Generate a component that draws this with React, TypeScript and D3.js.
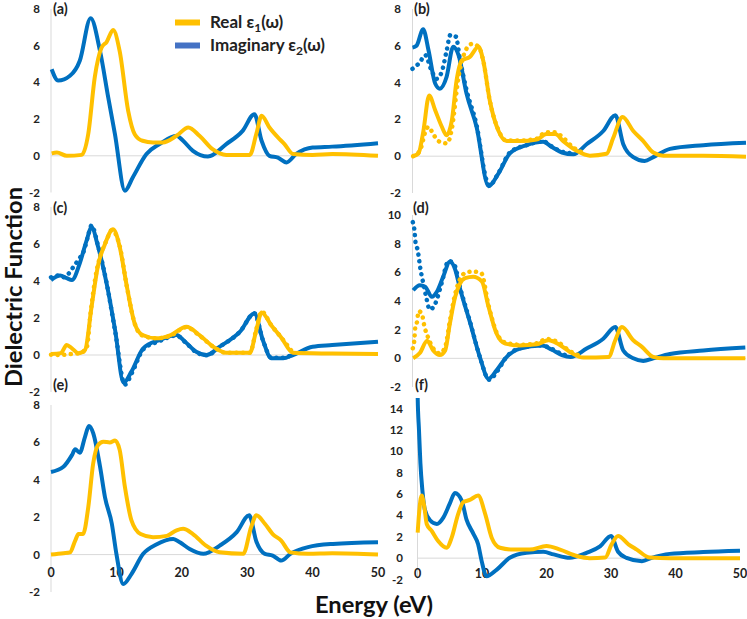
import React from 'react';
import * as d3 from 'd3';

type Pt = [number, number];

const energyTicks = [0, 10, 20, 30, 40, 50];
const ticksA = [-2, 0, 2, 4, 6, 8];
const ticksD = [-2, 0, 2, 4, 6, 8, 10];
const ticksF = [-2, 0, 2, 4, 6, 8, 10, 12, 14];

// (a)
const aImag: Pt[] = [[0.1,4.72],[1.1,4.1],[2.9,4.36],[4.4,5.18],[6.06,7.5],[7.5,5.7],[8.75,3.18],[9.77,1.2],[11.3,-1.9],[12.5,-1.18],[14.6,0.1],[16.6,0.64],[19.2,1.09],[20.2,0.82],[21.7,0.27],[24,-0.04],[26.8,0.64],[29.3,1.36],[31.1,2.27],[32.2,0.82],[33.4,0],[34.7,-0.1],[36,-0.36],[37.5,0.1],[40,0.45],[43,0.5],[50,0.69]];
const aReal: Pt[] = [[0.1,0.13],[0.9,0.18],[2.4,0],[4.7,0.05],[5.7,1.2],[6.7,4.3],[7.74,5.9],[8.5,6.2],[9.5,6.85],[10.5,5.7],[11.8,2.45],[12.8,1.18],[14,0.82],[15.6,0.73],[17.1,0.73],[19.2,1.09],[21,1.54],[22.7,1.09],[24.7,0.36],[26.8,0.05],[30.4,0.05],[31.4,1.2],[32.2,2.18],[33.4,1.54],[34.7,1.0],[35.7,0.64],[37,0.1],[40,0.05],[43,0.1],[50,0]];

// (b)
const bImag: Pt[] = [[0,5.9],[0.6,6.0],[1.6,6.9],[2.4,5.76],[3.4,3.95],[4.1,3.67],[5.1,4.3],[6.1,5.95],[6.9,5.5],[8.1,3.4],[9.6,1.6],[11.4,-1.63],[12.9,-0.93],[14.6,0.15],[17.1,0.6],[19.6,0.78],[20.9,0.5],[22.4,0.2],[24.1,0.1],[26.1,0.65],[28.6,1.37],[30.4,2.23],[31.6,0.65],[33.1,-0.05],[34.8,-0.26],[36.1,-0.05],[38.6,0.4],[43.6,0.6],[50,0.73]];
const bImagDot: Pt[] = [[0,4.75],[1.1,5.1],[1.9,5.5],[2.8,4.7],[3.6,4.2],[4.4,4.6],[5.1,5.7],[5.7,6.6],[6.5,6.5],[7.1,5.3],[8.1,3.6],[9.6,1.7],[11.1,-1.3],[11.5,-1.6],[12.9,-0.9],[14.6,0.2],[17.1,0.6],[19.6,0.8],[21,0.5],[22.4,0.25],[24.1,0.15]];
const bReal: Pt[] = [[0,0],[0.9,0.15],[1.6,1.3],[2.5,3.3],[3.4,2.5],[4.4,1.6],[5.1,1.14],[5.9,1.95],[6.6,4.1],[7.4,5.2],[8.6,5.4],[9.9,5.95],[10.6,5.2],[11.6,3.0],[12.9,1.37],[14.1,0.82],[16.1,0.82],[18.6,0.9],[20.1,1.2],[21.4,1.2],[22.6,0.82],[24.6,0.3],[26.6,0.03],[29.1,0.13],[30.1,1.0],[31.5,2.13],[33.1,1.37],[34.6,0.82],[36.1,0.2],[37.6,0.03],[43.6,0.03],[50,-0.03]];
const bRealDot: Pt[] = [[0.1,0],[0.9,0.2],[1.4,0.6],[1.8,1.2],[2.4,1.6],[3.1,1.2],[4.0,0.8],[5.2,0.7],[5.9,1.5],[6.9,4.3],[7.9,5.7],[8.9,6.1],[9.9,5.95],[10.6,5.2],[11.6,3.0],[12.9,1.4],[14.1,0.85],[16.1,0.85],[18.6,0.95],[20,1.3],[21.3,1.3],[22.6,1.0],[24,0.5],[25.5,0.2]];

// (c)
const cImag: Pt[] = [[0,4.05],[1.4,4.3],[2.4,4.15],[3.2,4.05],[4.4,4.96],[5.45,6.2],[6.2,6.9],[7.2,5.85],[8.5,3.87],[9.8,1.35],[11.1,-1.5],[12.3,-0.9],[14.1,0.36],[16.6,0.81],[19.2,1.08],[20.5,0.72],[22.2,0.18],[23.8,0],[25.8,0.45],[28.9,1.26],[31.1,2.25],[32.4,0.8],[33.7,-0.18],[35.5,-0.18],[37,0],[40,0.45],[43,0.54],[50,0.72]];
const cImagDot: Pt[] = [[0,4.2],[1.2,4.3],[2.0,4.2],[2.7,4.4],[3.5,4.8],[4.3,5.2],[5.0,5.6],[5.6,6.35],[6.2,7.0],[7.2,5.9],[8.5,3.9],[9.8,1.3],[11.3,-1.6],[12.4,-0.95],[14.1,0.3],[16.6,0.75],[19.2,1.05],[20.5,0.7],[22.2,0.15],[23.8,-0.02],[25.8,0.45],[28.9,1.26],[31.1,2.25],[32.4,0.8],[33.7,-0.15],[35.5,-0.15],[36.5,-0.05]];
const cReal: Pt[] = [[0,0.05],[1.5,0.1],[2.4,0.54],[3.2,0.36],[4.2,0.1],[5.2,0.27],[6.2,2.6],[7.2,4.86],[8.2,5.95],[9.5,6.8],[10.5,5.85],[11.6,3.7],[12.8,1.7],[14,1.08],[16.1,0.9],[18.3,1.08],[20.7,1.53],[22.7,1.08],[24.8,0.45],[26.8,0.12],[30.4,0.12],[31.4,1.35],[32.2,2.3],[33.7,1.6],[35.2,0.95],[37,0.12],[43,0.08],[50,0.05]];
const cRealDot: Pt[] = [[0,0.02],[1.5,0],[3,0.05],[4.5,0.1],[5.5,0.45],[6.0,2.1],[6.5,3.5],[7.0,4.6],[7.5,5.3],[8.5,6.2],[9.3,6.75],[10.5,5.9],[11.6,3.7],[12.8,1.7],[14,1.05],[16.1,0.9],[18.3,1.05],[20.7,1.5],[22.7,1.05],[24.8,0.45],[26.8,0.12],[30.4,0.12],[31.4,1.4],[32.2,2.35],[33.7,1.6],[35.2,0.95],[37,0.12]];

// (d)
const dImag: Pt[] = [[0.1,4.75],[1.1,5.1],[1.9,5.0],[2.9,4.29],[3.6,4.6],[4.6,5.69],[5.6,6.74],[6.4,6.2],[7.1,4.9],[8.6,2.54],[10.1,0.09],[11.4,-1.42],[12.6,-0.84],[14.1,0.09],[16.1,0.68],[19.4,0.9],[20.9,0.6],[22.4,0.23],[23.7,0.1],[26.1,0.68],[28.6,1.37],[30.4,2.18],[31.6,0.55],[33.1,0],[34.6,-0.18],[36.1,0],[38.6,0.3],[43.6,0.55],[49.9,0.75]];
const dImagDot: Pt[] = [[0.05,9.5],[0.3,8.9],[0.45,8.1],[0.8,7.5],[1.0,6.85],[1.2,6.2],[1.5,5.5],[2.0,4.4],[2.6,3.4],[3.4,3.8],[4.4,5.3],[5.4,6.8],[6.3,6.5],[7.1,5.0],[8.6,2.6],[10.1,0.1],[11.5,-1.5],[12.7,-0.9],[14.1,0.1],[16.1,0.7],[19.4,0.9],[20.9,0.65],[22.4,0.3],[23.7,0.15]];
const dReal: Pt[] = [[0.1,0],[1.1,0.37],[2.2,1.22],[3.1,0.55],[4.1,0.23],[4.9,0.55],[5.6,2.42],[6.4,4.29],[7.1,5.2],[7.9,5.6],[9.1,5.7],[10.4,5.36],[11.4,3.6],[12.6,1.73],[13.9,1.03],[16.1,0.9],[18.6,0.98],[20.4,1.26],[21.9,0.98],[23.6,0.45],[25.6,0.05],[29.4,0.1],[30.4,1.26],[31.4,2.18],[33.1,1.26],[34.4,0.8],[36.1,0.1],[37.6,0],[49.9,0]];
const dRealDot: Pt[] = [[0.05,0.7],[0.3,1.4],[0.4,2.1],[0.7,2.6],[0.9,3.3],[1.4,3.1],[1.8,2.2],[2.3,1.5],[3.1,0.7],[4.1,0.35],[4.9,0.8],[5.6,2.6],[6.4,4.5],[7.1,5.5],[8.1,6.0],[9.1,6.05],[10.3,5.95],[11.4,3.7],[12.6,1.8],[13.9,1.1],[16.1,0.95],[18.6,1.05],[20.1,1.35],[21.9,1.1],[23.6,0.5],[25,0.2]];

// (e)
const eImag: Pt[] = [[0,4.42],[1.9,4.7],[3.2,5.32],[3.7,5.63],[4.4,5.45],[5.2,6.3],[5.8,6.88],[6.45,6.5],[7.5,4.7],[8.25,3.08],[9.3,1.65],[10,0.04],[11.05,-1.57],[12.3,-1.04],[14.1,0.04],[16.1,0.54],[18.7,0.84],[19.7,0.66],[21.2,0.3],[23.3,0.04],[25.8,0.48],[28.4,1.2],[30.3,2.1],[31.4,0.7],[32.7,0.04],[33.9,-0.05],[35.2,-0.32],[36.6,0.04],[39.3,0.4],[43.1,0.57],[50,0.66]];
const eReal: Pt[] = [[0,0],[1.9,0.07],[2.9,0.12],[3.7,0.75],[4.2,1.1],[4.9,1.1],[5.7,2.54],[6.45,4.87],[7.2,5.86],[8.0,6.04],[9.0,6.0],[9.8,6.1],[10.5,5.6],[11.3,3.62],[12.3,1.83],[13.7,1.1],[15.6,0.93],[17.7,1.0],[19.2,1.3],[20.2,1.38],[21.7,1.1],[23.7,0.48],[25.8,0.12],[29.4,0.04],[30.6,1.47],[31.4,2.1],[32.7,1.65],[33.9,1.1],[35.2,0.75],[36.6,0.12],[39.3,0.04],[43,0.07],[50,0]];

// (f)
const fImag: Pt[] = [[0,16.5],[0.03,15.0],[0.23,12.0],[0.45,8.9],[0.75,6.4],[1.16,4.5],[1.94,3.55],[3.0,3.2],[4.0,3.8],[5.0,5.1],[5.8,6.1],[6.85,5.4],[7.6,3.6],[8.65,2.3],[9.4,1.3],[9.95,-0.28],[10.7,-1.7],[12.3,-1.07],[14.3,0.03],[16.9,0.5],[19.5,0.6],[21.1,0.35],[23.6,0.03],[26.2,0.5],[28.3,1.1],[30.0,2.08],[31.1,0.6],[32.4,0.03],[34.8,-0.28],[36.3,0.03],[39.1,0.4],[44.3,0.57],[50,0.69]];
const fReal: Pt[] = [[0.03,2.4],[0.23,4.1],[0.65,5.86],[1.06,4.8],[1.43,3.2],[2.2,2.55],[3.2,1.6],[4.5,0.97],[5.3,1.92],[6.3,4.13],[7.1,5.24],[8.1,5.45],[9.4,5.86],[10.5,4.13],[11.5,1.92],[12.8,0.97],[14.9,0.8],[17.4,0.8],[20.0,1.13],[22.1,0.8],[24.7,0.2],[26.7,0],[29.1,0.05],[30.1,1.3],[31.1,2.08],[32.7,1.3],[34,0.8],[36,0.05],[39.1,0],[50,0]];

const YELLOW = '#FFC000';
const BLUE = '#0070C0';
const FONT = 'Lato, "Open Sans", "DejaVu Sans", sans-serif';

type PanelCfg = {
  id: string; label: string;
  x0: number; x1: number; yTop: number; yBot: number; yMax: number;
  ticks: number[]; tickX: number; labelX: number; labelY: number;
  real: Pt[]; imag: Pt[]; realDot?: Pt[]; imagDot?: Pt[];
  xLabels: boolean; xLabelY?: number;
};

const panels: PanelCfg[] = [
  { id: 'a', label: '(a)', x0: 51, x1: 378, yTop: 9, yBot: 192.5, yMax: 8, ticks: ticksA, tickX: 40, labelX: 53, labelY: 14, real: aReal, imag: aImag, xLabels: false },
  { id: 'b', label: '(b)', x0: 412.5, x1: 746, yTop: 9, yBot: 193, yMax: 8, ticks: ticksA, tickX: 401, labelX: 414, labelY: 14, real: bReal, imag: bImag, realDot: bRealDot, imagDot: bImagDot, xLabels: false },
  { id: 'c', label: '(c)', x0: 51, x1: 378, yTop: 207, yBot: 392, yMax: 8, ticks: ticksA, tickX: 40, labelX: 53, labelY: 213, real: cReal, imag: cImag, realDot: cRealDot, imagDot: cImagDot, xLabels: false },
  { id: 'd', label: '(d)', x0: 412.5, x1: 746, yTop: 215, yBot: 387, yMax: 10, ticks: ticksD, tickX: 401, labelX: 413, labelY: 213, real: dReal, imag: dImag, realDot: dRealDot, imagDot: dImagDot, xLabels: false },
  { id: 'e', label: '(e)', x0: 51, x1: 378, yTop: 405, yBot: 592, yMax: 8, ticks: ticksA, tickX: 40, labelX: 53, labelY: 390, real: eReal, imag: eImag, xLabels: true, xLabelY: 577 },
  { id: 'f', label: '(f)', x0: 417.5, x1: 740, yTop: 398, yBot: 579.5, yMax: 15, ticks: ticksF, tickX: 403, labelX: 415, labelY: 390, real: fReal, imag: fImag, xLabels: true, xLabelY: 578 },
];

function Panel({ p }: { p: PanelCfg }) {
  const x = d3.scaleLinear().domain([0, 50]).range([p.x0, p.x1]);
  const y = d3.scaleLinear().domain([-2, p.yMax]).range([p.yBot, p.yTop]);
  const line = d3.line<Pt>().x(d => x(d[0])).y(d => y(d[1])).curve(d3.curveMonotoneX);
  const clipId = `clip-${p.id}`;
  const dotStyle = { strokeDasharray: '0.1 6.5', strokeLinecap: 'round' as const };
  return (
    <g>
      <defs>
        <clipPath id={clipId}>
          <rect x={p.x0 - 4} y={p.yTop} width={p.x1 - p.x0 + 10} height={p.yBot - p.yTop + 6} />
        </clipPath>
      </defs>
      <line x1={p.x0} x2={p.x0} y1={p.yTop} y2={p.yBot} stroke="#d9d9d9" strokeWidth={1} />
      <line x1={p.x0} x2={p.x1} y1={y(0)} y2={y(0)} stroke="#d9d9d9" strokeWidth={1} />
      {p.ticks.map(t => (
        <text key={t} x={p.tickX} y={y(t)} dy="0.35em" textAnchor="end" fontFamily={FONT} fontWeight={700} fontSize={11.5} fill="#222">{t}</text>
      ))}
      {p.xLabels && energyTicks.map(t => (
        <text key={'x' + t} x={x(t)} y={p.xLabelY} textAnchor="middle" fontFamily={FONT} fontWeight={700} fontSize={12.5} fill="#222">{t}</text>
      ))}
      <text x={p.labelX} y={p.labelY} fontFamily={FONT} fontWeight={700} fontSize={14.5} fill="#222">{p.label}</text>
      <g clipPath={`url(#${clipId})`} fill="none" strokeLinejoin="round">
        <path d={line(p.imag) || ''} stroke={BLUE} strokeWidth={4} />
        {p.imagDot && <path d={line(p.imagDot) || ''} stroke={BLUE} strokeWidth={4.5} style={dotStyle} />}
        <path d={line(p.real) || ''} stroke={YELLOW} strokeWidth={4} />
        {p.realDot && <path d={line(p.realDot) || ''} stroke={YELLOW} strokeWidth={4.5} style={dotStyle} />}
      </g>
    </g>
  );
}

export default function App() {
  return (
    <svg width={747} height={619} style={{ position: 'absolute', left: 0, top: 0, background: '#fff' }}>
      <rect width={747} height={619} fill="#fff" />
      {panels.map(p => <Panel key={p.id} p={p} />)}
      {/* legend */}
      <line x1={175} x2={200} y1={22.5} y2={22.5} stroke={YELLOW} strokeWidth={6} />
      <line x1={175} x2={200} y1={45.5} y2={45.5} stroke="#4472C4" strokeWidth={6} />
      <text x={210} y={28} fontFamily={FONT} fontWeight={700} fontSize={17} fill="#222">
        Real ε<tspan fontSize={12} dy={4}>1</tspan><tspan dy={-4}>(ω)</tspan>
      </text>
      <text x={210} y={51} fontFamily={FONT} fontWeight={700} fontSize={17} fill="#222">
        Imaginary ε<tspan fontSize={12} dy={4}>2</tspan><tspan dy={-4}>(ω)</tspan>
      </text>
      {/* axis titles */}
      <text transform="translate(22,287) rotate(-90)" textAnchor="middle" fontFamily={FONT} fontWeight={700} fontSize={22} fill="#111" textLength={200} lengthAdjust="spacingAndGlyphs">Dielectric Function</text>
      <text x={374} y={613} textAnchor="middle" fontFamily={FONT} fontWeight={700} fontSize={22} fill="#111" textLength={118} lengthAdjust="spacingAndGlyphs">Energy (eV)</text>
    </svg>
  );
}
